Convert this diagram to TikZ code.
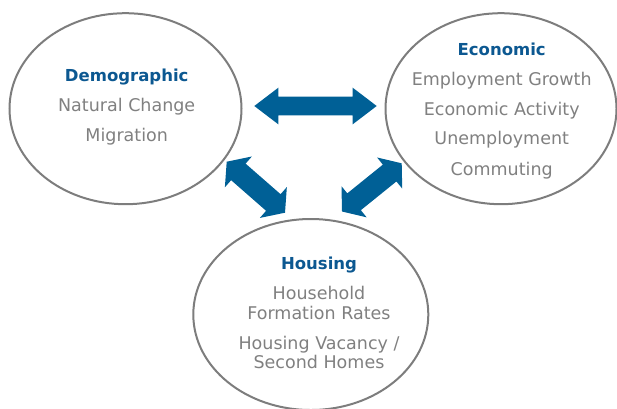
\documentclass[tikz,border=0pt]{standalone}
\usepackage{fontspec}
\setmainfont{DejaVu Sans}
\usetikzlibrary{shapes.geometric,calc}
\definecolor{ttlblue}{RGB}{12,88,145}
\definecolor{arrblue}{RGB}{0,96,150}
\definecolor{txtgray}{RGB}{128,128,128}
\definecolor{ringgray}{RGB}{125,125,125}
\newcommand\fatarr[5]{%
  \fill[arrblue] (#1)
    -- ($(#1)!#3!(#2)!#4!90:(#2)$)
    -- ($(#1)!#3!(#2)!#5!90:(#2)$)
    -- ($(#2)!#3!(#1)!#5!-90:(#1)$)
    -- ($(#2)!#3!(#1)!#4!-90:(#1)$)
    -- (#2)
    -- ($(#2)!#3!(#1)!#4!90:(#1)$)
    -- ($(#2)!#3!(#1)!#5!90:(#1)$)
    -- ($(#1)!#3!(#2)!#5!-90:(#2)$)
    -- ($(#1)!#3!(#2)!#4!-90:(#2)$)
    -- cycle;}
\begin{document}
\begin{tikzpicture}[x=1pt,y=-1pt,
  ring/.style={ellipse, draw=ringgray, line width=2pt, inner sep=0pt},
  ttl/.style={anchor=base, inner sep=0pt, text=ttlblue, font=\fontsize{16.5}{20}\selectfont\bfseries},
  bdy/.style={anchor=base, inner sep=0pt, text=txtgray, font=\fontsize{17.5}{20}\selectfont}]
\useasboundingbox (0,0) rectangle (617,408);
% rings
\node[ring, minimum width=232pt, minimum height=191pt] (dem) at (125.5,108.7) {};
\node[ring, minimum width=231pt, minimum height=191pt] (eco) at (501,108.7) {};
\node[ring, minimum width=235pt, minimum height=191pt] (hou) at (310.8,314.5) {};
% texts
\node[ttl] (demt) at (126.7,81) {Demographic};
\node[bdy] (dem1) at (126.7,111) {Natural Change};
\node[bdy] (dem2) at (126.7,141) {Migration};
\node[ttl] (ecot) at (501.7,55.3) {Economic};
\node[bdy] (eco1) at (501.7,85) {Employment Growth};
\node[bdy] (eco2) at (501.7,115) {Economic Activity};
\node[bdy] (eco3) at (501.7,144.7) {Unemployment};
\node[bdy] (eco4) at (501.7,175) {Commuting};
\node[ttl] (hout) at (319,269.3) {Housing};
\node[bdy] (hou1) at (319,299.3) {Household};
\node[bdy] (hou2) at (319,319.3) {Formation Rates};
\node[bdy] (hou3) at (319,349.3) {Housing Vacancy /};
\node[bdy] (hou4) at (319,368.7) {Second Homes};
% arrow ends
\coordinate (h1) at (254.3,106);
\coordinate (h2) at (376.7,106);
\coordinate (l1) at (226.7,161.7);
\coordinate (l2) at (285,212.7);
\coordinate (r1) at (342,211.5);
\coordinate (r2) at (401.7,163.3);
\fatarr{h1}{h2}{24pt}{18.3pt}{9.3pt}
\fatarr{l1}{l2}{15.5pt}{20.5pt}{11pt}
\fatarr{r1}{r2}{15.5pt}{20pt}{10.8pt}
\end{tikzpicture}
\end{document}
